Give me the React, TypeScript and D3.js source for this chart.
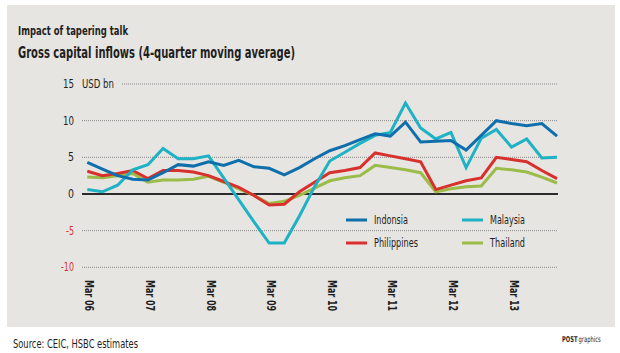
import React, { useRef, useEffect } from 'react';
import * as d3 from 'd3';

const quarters = d3.range(32); // Mar 06 .. Dec 13, quarterly
const yearLabels = ['Mar 06', 'Mar 07', 'Mar 08', 'Mar 09', 'Mar 10', 'Mar 11', 'Mar 12', 'Mar 13'];
const yTicks = [-10, -5, 0, 5, 10, 15];

const indonesia   = [4.3, 3.4, 2.5, 2.0, 1.9, 2.9, 4.0, 3.8, 4.4, 3.9, 4.6, 3.7, 3.5, 2.6, 3.6, 4.8, 5.9, 6.6, 7.4, 8.2, 7.9, 9.8, 7.1, 7.2, 7.3, 6.0, 8.0, 10.0, 9.6, 9.3, 9.6, 7.9];
const malaysia    = [0.6, 0.3, 1.2, 3.3, 4.0, 6.2, 4.8, 4.8, 5.2, 2.2, -0.8, -3.8, -6.7, -6.7, -3.0, 1.0, 4.5, 5.7, 6.9, 8.0, 8.4, 12.4, 9.0, 7.5, 8.4, 3.6, 7.6, 8.8, 6.4, 7.5, 4.9, 5.0];
const philippines = [3.1, 2.5, 2.8, 3.2, 2.1, 3.2, 3.2, 3.0, 2.5, 1.7, 0.9, -0.2, -1.5, -1.4, 0.3, 1.6, 2.9, 3.2, 3.6, 5.6, 5.2, 4.8, 4.4, 0.6, 1.2, 1.8, 2.2, 5.0, 4.7, 4.4, 3.2, 2.1];
const thailand    = [2.3, 2.2, 2.5, 2.8, 1.6, 1.9, 1.9, 2.0, 2.4, 1.6, 0.7, -0.2, -1.3, -1.0, -0.2, 0.8, 1.8, 2.2, 2.5, 3.9, 3.6, 3.3, 2.9, 0.3, 0.7, 1.0, 1.1, 3.5, 3.3, 3.0, 2.3, 1.5];

const COLORS = {
  indonesia: '#0f6fac',
  malaysia: '#1fb1c4',
  philippines: '#d8302c',
  thailand: '#9bbc48',
};

const FONT = "'DejaVu Sans Condensed', 'Liberation Sans', Roboto, sans-serif";
const BG = '#e6e5e1';
const INK = '#1e1e1e';

export default function App() {
  const svgRef = useRef<SVGSVGElement>(null);

  useEffect(() => {
    const svgEl = svgRef.current;
    if (!svgEl) return;
    const svg = d3.select(svgEl);
    svg.selectAll('*').remove();

    const width = 620, height = 353;

    // narrow condensed look: squeeze text to the measured width
    const txt = (x: number, y: number, s: string, size: number, w: number, bold = false, fill = INK) =>
      svg.append('text')
        .attr('x', x).attr('y', y)
        .attr('font-family', FONT).attr('font-size', `${size}px`)
        .attr('font-weight', bold ? 'bold' : 'normal')
        .attr('fill', fill)
        .attr('textLength', w).attr('lengthAdjust', 'spacingAndGlyphs')
        .text(s);

    svg.append('rect').attr('width', width).attr('height', height).attr('fill', '#fff');
    svg.append('rect').attr('x', 7).attr('y', 5).attr('width', 608).attr('height', 322).attr('fill', BG);

    // Titles
    txt(18, 35, 'Impact of tapering talk', 12.5, 110, true);
    txt(18, 58, 'Gross capital inflows (4-quarter moving average)', 16, 277, true);

    const xScale = d3.scaleLinear().domain([0, 31]).range([87.3, 557]);
    const yScale = d3.scaleLinear().domain([-10, 15]).range([267.3, 84]);
    const plotLeft = 82, plotRight = 558;

    // Grid lines
    yTicks.forEach(t => {
      if (t === 0) return;
      svg.append('line')
        .attr('x1', t === 15 ? 122 : plotLeft).attr('x2', plotRight)
        .attr('y1', yScale(t)).attr('y2', yScale(t))
        .attr('stroke', '#8a8a8a').attr('stroke-width', 1)
        .attr('stroke-dasharray', '1,1');
    });

    // Y tick labels
    yTicks.forEach(t => {
      const label = String(t);
      const w = label.length === 1 ? 6 : label.length === 2 ? (t < 0 ? 8 : 11) : 13;
      txt(74 - w, yScale(t) + 4, label, 11.5, w, false, t < 0 ? '#d8302c' : INK);
    });
    txt(82, yScale(15) + 4, 'USD bn', 11.5, 32);

    const series = [
      { name: 'Thailand', values: thailand, color: COLORS.thailand },
      { name: 'Philippines', values: philippines, color: COLORS.philippines },
      { name: 'Malaysia', values: malaysia, color: COLORS.malaysia },
      { name: 'Indonsia', values: indonesia, color: COLORS.indonesia },
    ];

    // Zero line
    svg.append('line')
      .attr('x1', plotLeft).attr('x2', plotRight)
      .attr('y1', yScale(0)).attr('y2', yScale(0))
      .attr('stroke', '#2b2b2b').attr('stroke-width', 2);

    series.forEach(s => {
      const line = d3.line<number>()
        .x(i => xScale(i))
        .y(i => yScale(s.values[i]));
      svg.append('path').datum(quarters)
        .attr('fill', 'none').attr('stroke', s.color).attr('stroke-width', 3)
        .attr('stroke-linejoin', 'miter')
        .attr('d', line);
    });

    // X labels (rotated)
    yearLabels.forEach((lab, k) => {
      const x = xScale(k * 4) + 2.5;
      svg.append('text')
        .attr('transform', `translate(${x},280) rotate(90)`)
        .attr('dy', '0.35em')
        .attr('font-family', FONT).attr('font-weight', 'bold').attr('font-size', '12.5px')
        .attr('fill', INK)
        .attr('textLength', 31).attr('lengthAdjust', 'spacingAndGlyphs')
        .text(lab);
    });

    // Legend
    const legendItems = [
      { name: 'Indonsia', color: COLORS.indonesia, x: 346, y: 220, w: 34 },
      { name: 'Malaysia', color: COLORS.malaysia, x: 462, y: 220, w: 35 },
      { name: 'Philippines', color: COLORS.philippines, x: 346, y: 243, w: 44 },
      { name: 'Thailand', color: COLORS.thailand, x: 462, y: 243, w: 35 },
    ];
    legendItems.forEach(item => {
      svg.append('line')
        .attr('x1', item.x).attr('x2', item.x + 21)
        .attr('y1', item.y).attr('y2', item.y)
        .attr('stroke', item.color).attr('stroke-width', 3);
      txt(item.x + 28, item.y + 4, item.name, 12, item.w);
    });

    // Footer
    txt(13, 348, 'Source: CEIC, HSBC estimates', 11.5, 125);
    const credit = svg.append('g').attr('transform', 'translate(562,342) scale(0.72,1)');
    credit.append('text')
      .attr('x', 0).attr('y', 0)
      .attr('font-family', FONT).attr('font-size', '8px').attr('font-weight', 'bold').attr('fill', INK)
      .text('POST');
    credit.append('text')
      .attr('x', 23).attr('y', 0)
      .attr('font-family', FONT).attr('font-size', '8px').attr('fill', INK)
      .text('graphics');
  }, []);

  return (
    <div style={{ position: 'absolute', top: 0, left: 0, width: 620, height: 353 }}>
      <svg ref={svgRef} width={620} height={353} style={{ display: 'block' }} />
    </div>
  );
}
